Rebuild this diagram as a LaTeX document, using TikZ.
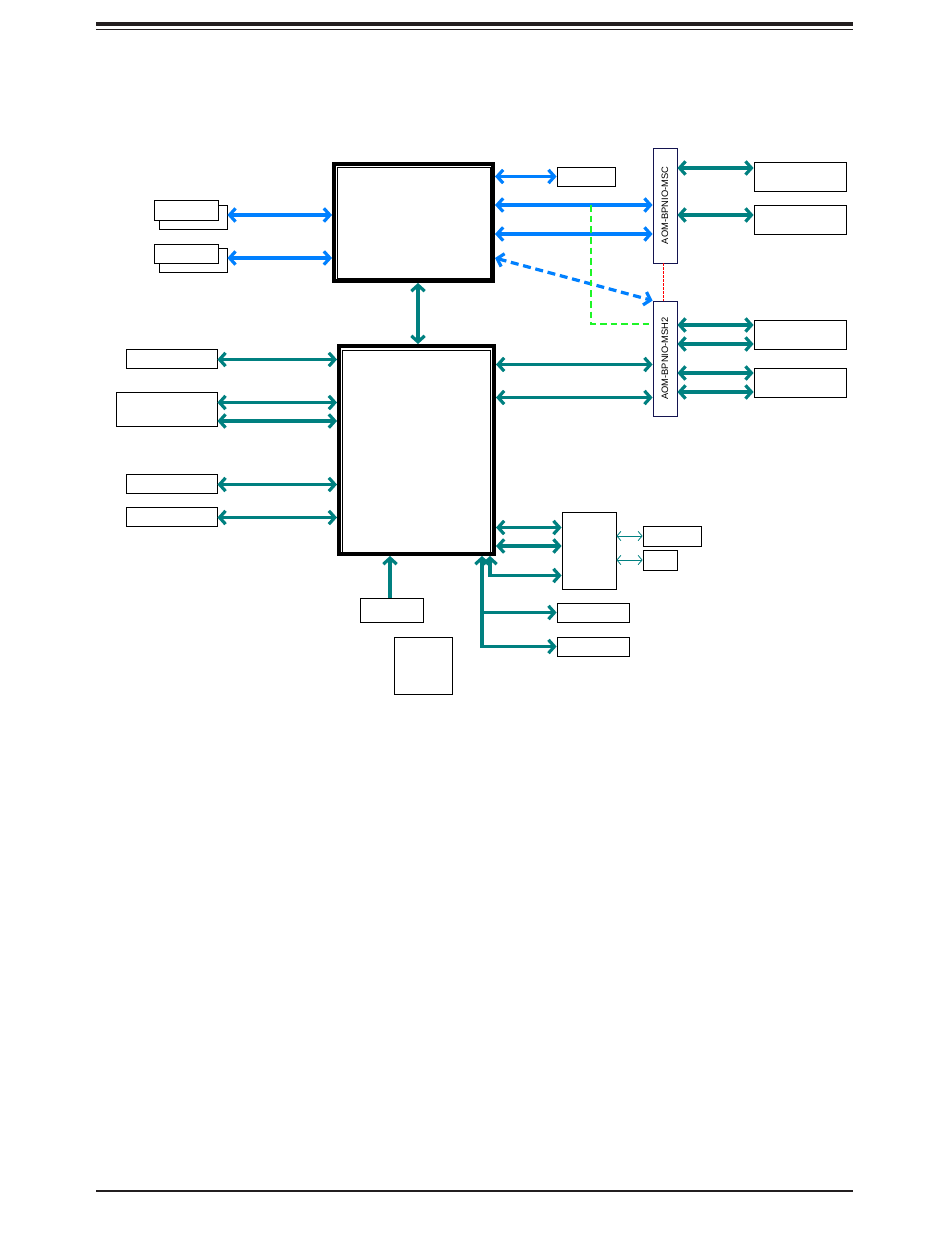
\documentclass[tikz,border=0pt]{standalone}
\usepackage{fontspec}
\setmainfont{Liberation Sans}
\usetikzlibrary{arrows.meta}
\definecolor{linkblue}{RGB}{0,128,255}
\definecolor{linkteal}{RGB}{0,128,128}
\definecolor{linkgreen}{RGB}{30,245,40}
\definecolor{aomnavy}{RGB}{20,20,80}
\definecolor{rule}{RGB}{35,31,32}
\tikzset{
  sz/.style 2 args={minimum width=#1*0.75pt, minimum height=#2*0.75pt},
  box/.style={rectangle, draw, line width=0.6pt, inner sep=0pt, fill=white},
  chip/.style={rectangle, draw, line width=3pt, inner sep=0pt},
  inchip/.style={rectangle, draw, line width=0.6pt, inner sep=0pt},
  aom/.style={box, draw=aomnavy},
  aomtxt/.style={font=\fontsize{7}{8}\selectfont, rotate=90},
  hd/.tip={Straight Barb[length=4.5pt,width=10pt]},
  thd/.tip={Straight Barb[length=3pt,width=7pt]},
  blarr/.style={{hd}-{hd}, line width=2.4pt, draw=linkblue},
  tarr/.style={{hd}-{hd}, line width=2.4pt, draw=linkteal},
  tarrone/.style={-{hd}, line width=2.4pt, draw=linkteal},
  thinarr/.style={{thd}-{thd}, line width=0.6pt, draw=linkteal},
  gdash/.style={draw=linkgreen, line width=2pt, dash pattern=on 5pt off 3pt},
  rdash/.style={draw=red, line width=0.4pt, dash pattern=on 2pt off 1pt}
}

\begin{document}
\begin{tikzpicture}[x=0.75pt, y=-0.75pt]
\useasboundingbox (0,0) rectangle (950,1241);

% page rules
\draw[rule, line width=3pt] (96,24) -- (853,24);
\draw[rule, line width=0.9pt] (96,29.5) -- (853,29.5);
\draw[rule, line width=1.6pt] (96,1191) -- (853,1191);

% processors
\node[chip, sz={159}{117}] (cpu) at (413.5,222.5) {};
\node[inchip, sz={153}{111}] (cpuin) at (414,222.5) {};
\node[chip, sz={155}{208}] (pch) at (416.5,450) {};
\node[inchip, sz={148}{202}] (pchin) at (416.5,451) {};

% left side
\node[box, sz={68}{24}] (lt1b) at (193,217) {};
\node[box, sz={64}{20}] (lt1f) at (186,210) {};
\node[box, sz={68}{24}] (lt2b) at (193,260) {};
\node[box, sz={64}{19}] (lt2f) at (186,253.5) {};
\node[box, sz={91}{19}] (l1) at (171.5,358.5) {};
\node[box, sz={101}{34}] (l2) at (166.5,409) {};
\node[box, sz={91}{19}] (l3) at (171.5,483.5) {};
\node[box, sz={91}{19}] (l4) at (171.5,516.5) {};

% right side
\node[box, sz={58}{19}] (ext) at (586,176.5) {};
\node[aom, sz={24}{115}, label={[aomtxt]center:AOM-BPNIO-MSC}] (msc) at (665,205.5) {};
\node[aom, sz={24}{115}, label={[aomtxt]center:AOM-BPNIO-MSH2}] (msh) at (665,358.5) {};
\node[box, sz={92}{29}] (r1) at (800,176.5) {};
\node[box, sz={92}{29}] (r2) at (800,219.5) {};
\node[box, sz={92}{29}] (r3) at (800,334.5) {};
\node[box, sz={92}{29}] (r4) at (800,382.5) {};

% below
\node[box, sz={54}{77}] (hub) at (589,550.5) {};
\node[box, sz={58}{20}] (s1) at (672,536) {};
\node[box, sz={34}{20}] (s2) at (660,560) {};
\node[box, sz={72}{19}] (b1) at (593,612.5) {};
\node[box, sz={72}{19}] (b2) at (593,646.5) {};
\node[box, sz={63}{24}] (bt) at (391.5,610) {};
\node[box, sz={58}{57}] (bb) at (423,665.5) {};

\coordinate (gtap) at (591,205);

% blue links
\draw[blarr] (lt1b.east |- 0,215) -- (cpu.west |- 0,215);
\draw[blarr] (lt2b.east |- 0,258) -- (cpu.west |- 0,258);
\draw[blarr] (cpu.east |- ext.west) -- (ext.west);
\draw[blarr] (cpu.east |- 0,205) -- (msc.west |- 0,205);
\draw[blarr] (cpu.east |- 0,234) -- (msc.west |- 0,234);
\draw[blarr, dash pattern=on 6pt off 3.5pt] (cpu.east |- 0,258) -- (msh.north west);
\draw[gdash] (gtap) |- (msh.west |- 0,324);
\draw[rdash] (msc.south -| 663,0) -- (msh.north -| 663,0);

% teal links
\draw[tarr] (cpu.south -| 418,0) -- (pch.north -| 418,0);
\draw[tarr] (msc.east |- 0,168) -- (r1.west |- 0,168);
\draw[tarr] (msc.east |- 0,215) -- (r2.west |- 0,215);
\draw[tarr] (msh.east |- 0,325) -- (r3.west |- 0,325);
\draw[tarr] (msh.east |- 0,344) -- (r3.west |- 0,344);
\draw[tarr] (msh.east |- 0,373) -- (r4.west |- 0,373);
\draw[tarr] (msh.east |- 0,392) -- (r4.west |- 0,392);
\draw[tarr] (pch.east |- 0,364.5) -- (msh.west |- 0,364.5);
\draw[tarr] (pch.east |- 0,397.5) -- (msh.west |- 0,397.5);
\draw[tarr] (l1.east |- 0,359.5) -- (pch.west |- 0,359.5);
\draw[tarr] (l2.east |- 0,402.5) -- (pch.west |- 0,402.5);
\draw[tarr] (l2.east |- 0,421) -- (pch.west |- 0,421);
\draw[tarr] (l3.east |- 0,484.5) -- (pch.west |- 0,484.5);
\draw[tarr] (l4.east |- 0,517.5) -- (pch.west |- 0,517.5);
\draw[tarr] (pch.east |- 0,527.5) -- (hub.west |- 0,527.5);
\draw[tarr] (pch.east |- 0,546) -- (hub.west |- 0,546);
\draw[tarr] (pch.south -| 490,0) |- (hub.west |- 0,575.5);
\draw[tarr] (pch.south -| 482,0) |- (b2.west);
\draw[tarrone] (b1.west -| 482,0) -- (b1.west);
\draw[tarrone] (bt.north -| 390,0) -- (pch.south -| 390,0);
\draw[thinarr] (hub.east |- s1.west) -- (s1.west);
\draw[thinarr] (hub.east |- s2.west) -- (s2.west);
\end{tikzpicture}
\end{document}
